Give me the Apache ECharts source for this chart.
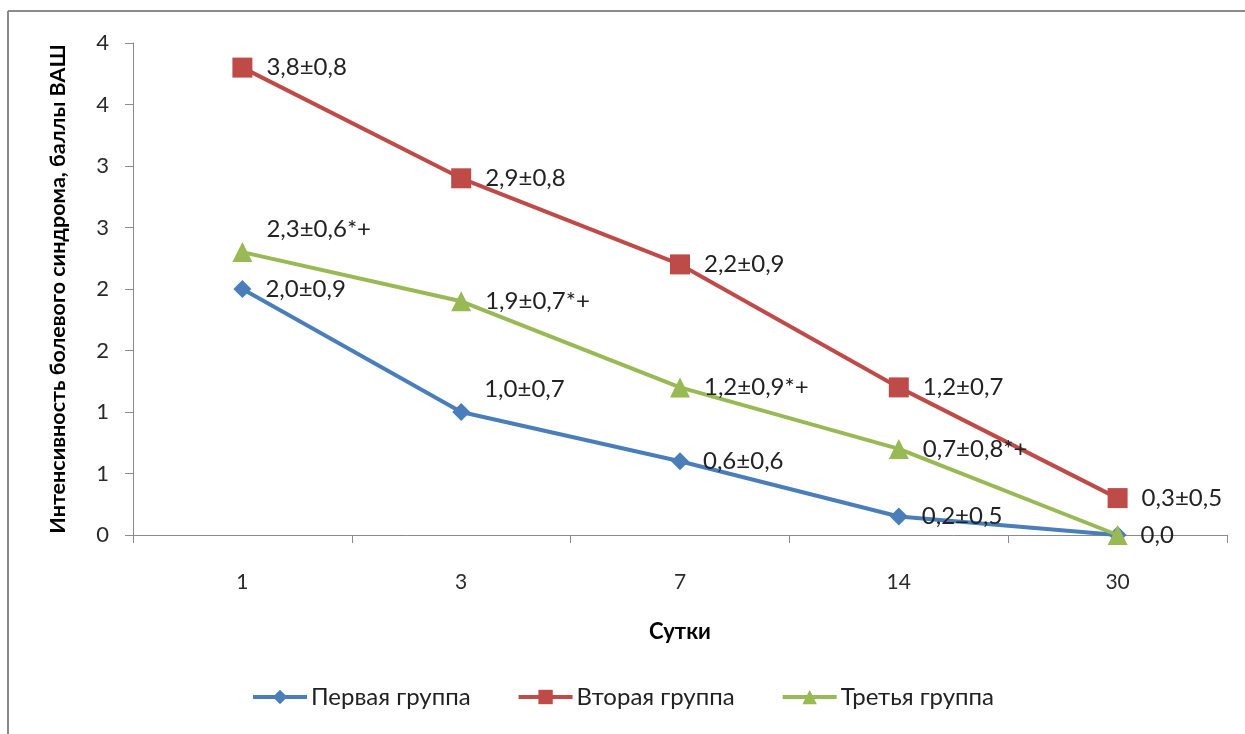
<!DOCTYPE html>
<html>
<head>
<meta charset="utf-8">
<script src="https://cdn.jsdelivr.net/npm/echarts@6/dist/echarts.min.js"></script>
<style>
html,body{margin:0;padding:0;background:#fff;}
#c{width:1245px;height:734px;}
</style>
</head>
<body>
<div id="c"></div>
<script>
const categories = ['1', '3', '7', '14', '30'];
const seriesNames = ['Первая группа', 'Вторая группа', 'Третья группа'];
const group1 = [2.0, 1.0, 0.6, 0.15, 0.0];
const group2 = [3.8, 2.9, 2.2, 1.2, 0.3];
const group3 = [2.3, 1.9, 1.2, 0.7, 0.0];
const labels1 = ['2,0±0,9', '1,0±0,7', '0,6±0,6', '0,2±0,5', '0,0'];
const labels2 = ['3,8±0,8', '2,9±0,8', '2,2±0,9', '1,2±0,7', '0,3±0,5'];
const labels3 = ['2,3±0,6*+', '1,9±0,7*+', '1,2±0,9*+', '0,7±0,8*+', ''];
const yTickLabels = ['0', '1', '1', '2', '2', '3', '3', '4', '4'];
const xAxisTitle = 'Сутки';
const yAxisTitle = 'Интенсивность болевого синдрома, баллы ВАШ';

const FONT = 'Lato';
const colors = ['#4A7EBB', '#BE4B48', '#98B954'];
const raised = {2: {0: true}, 0: {1: true}}; // series index -> category indices with raised label

function makeData(vals, labs, si) {
  return vals.map((v, i) => ({
    value: v,
    label: {
      formatter: labs[i],
      offset: (raised[si] && raised[si][i]) ? [0, -23] : [0, 0]
    }
  }));
}

const chart = echarts.init(document.getElementById('c'), null, {renderer: 'canvas'});
const lbl = {show: true, position: 'right', distance: 14, color: '#222', fontFamily: FONT, fontSize: 24};
chart.setOption({
  animation: false,
  color: colors,
  grid: {left: 133, right: 18, top: 43, bottom: 199},
  graphic: [
    {type: 'line', shape: {x1: 8, y1: 11, x2: 1245, y2: 11}, style: {stroke: '#8a8a8a', lineWidth: 2}},
    {type: 'line', shape: {x1: 8, y1: 11, x2: 8, y2: 734}, style: {stroke: '#8a8a8a', lineWidth: 2}}
  ],
  legend: {
    bottom: 20, left: 'center',
    itemWidth: 54, itemHeight: 18, itemGap: 46,
    lineStyle: {width: 4},
    textStyle: {fontFamily: FONT, fontSize: 24, color: '#222', padding: [0, 0, 0, -1]},
    data: seriesNames
  },
  xAxis: {
    type: 'category', data: categories, boundaryGap: true,
    name: xAxisTitle, nameLocation: 'middle', nameGap: 86,
    nameTextStyle: {fontFamily: FONT, fontSize: 22, fontWeight: 'bold', color: '#000'},
    axisLine: {lineStyle: {color: '#8a8a8a', width: 1}},
    axisTick: {show: true, length: 8, lineStyle: {color: '#8a8a8a'}},
    axisLabel: {fontFamily: FONT, fontSize: 21, color: '#2a2a2a', margin: 37},
    splitLine: {show: false}
  },
  yAxis: {
    type: 'value', min: 0, max: 4, interval: 0.5,
    name: yAxisTitle, nameLocation: 'middle', nameGap: 64,
    nameTextStyle: {fontFamily: FONT, fontSize: 21.5, fontWeight: 'bold', color: '#000'},
    axisLine: {show: true, lineStyle: {color: '#8a8a8a', width: 1}},
    axisTick: {show: true, length: 8, lineStyle: {color: '#8a8a8a'}},
    axisLabel: {fontFamily: FONT, fontSize: 22, color: '#2a2a2a', margin: 24,
      formatter: v => yTickLabels[Math.round(v / 0.5)]},
    splitLine: {show: false}
  },
  series: [
    {name: seriesNames[0], type: 'line', data: makeData(group1, labels1, 0), symbol: 'diamond', symbolSize: 18,
      lineStyle: {width: 4}, label: lbl, z: 4},
    {name: seriesNames[1], type: 'line', data: makeData(group2, labels2, 1), symbol: 'rect', symbolSize: 20,
      lineStyle: {width: 4}, label: lbl, z: 3},
    {name: seriesNames[2], type: 'line', data: makeData(group3, labels3, 2), symbol: 'triangle', symbolSize: 20,
      lineStyle: {width: 4}, label: lbl, z: 5}
  ]
});
</script>
</body>
</html>
